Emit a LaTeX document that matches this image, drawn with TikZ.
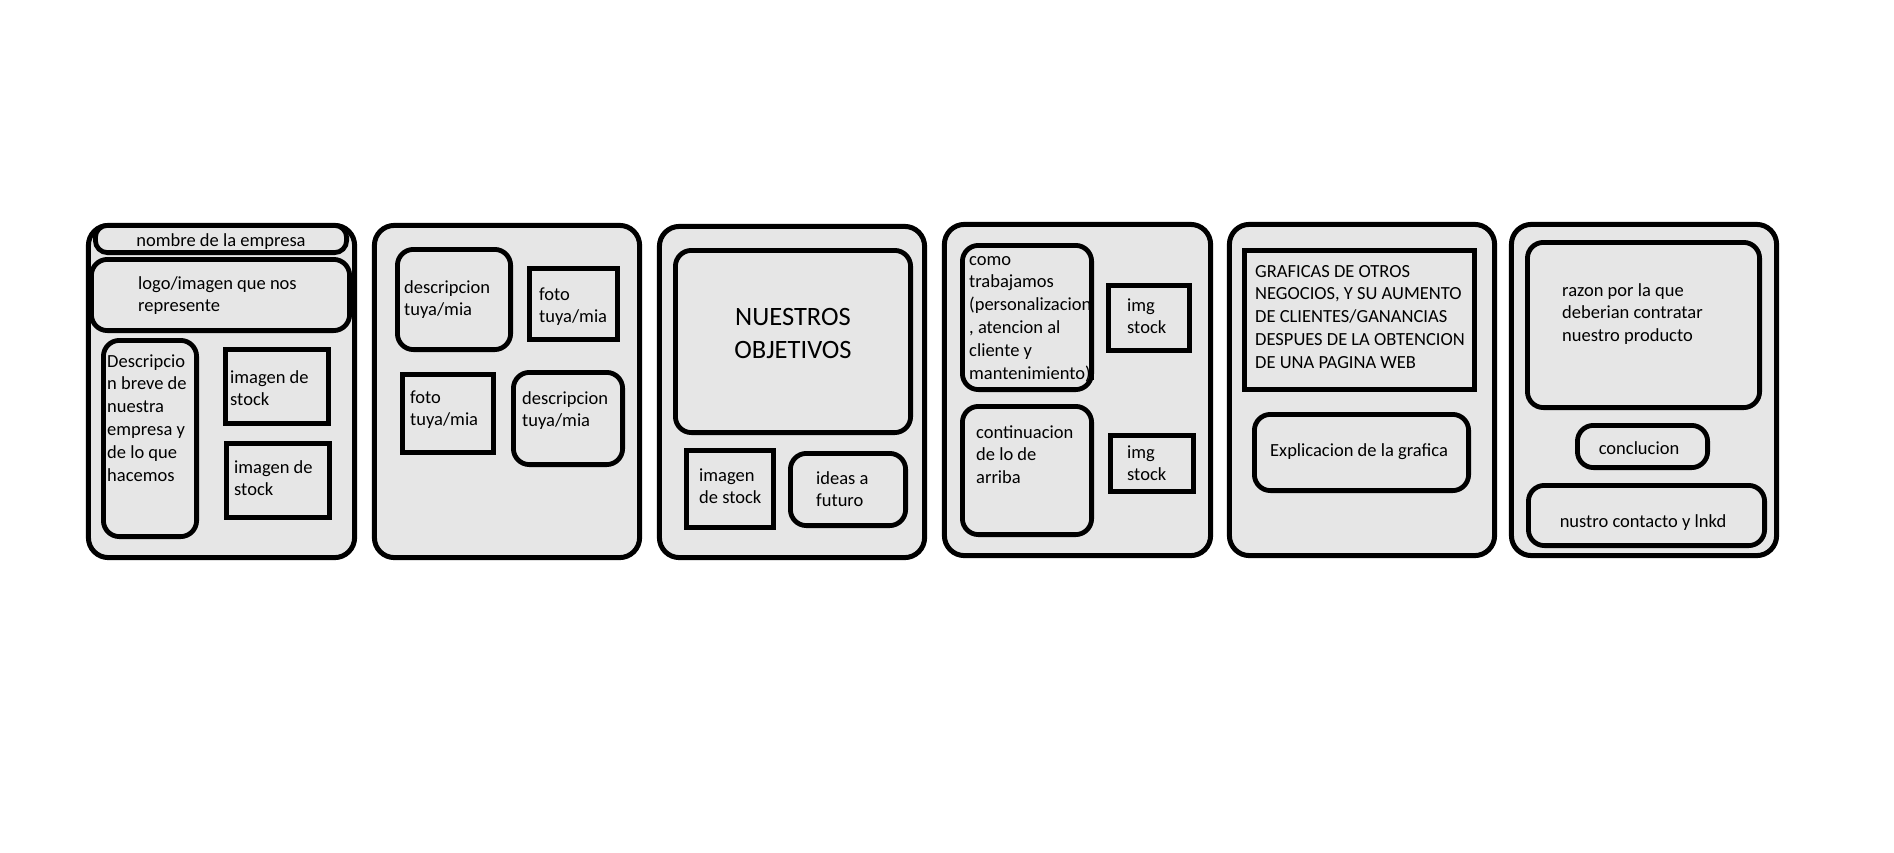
\documentclass[tikz,border=0pt]{standalone}
\usepackage{fontspec}
\setmainfont{Carlito}
\definecolor{panelgray}{RGB}{230,230,230}
\newcommand\wbox[6]{\node[#2, minimum width={(#5-#3)*1pt-4.8pt}, minimum height={(#6-#4)*1pt-4.8pt}] (#1) at ({(#3+#5)/2},{(#4+#6)/2}) {};}
\tikzset{
  panel/.style={draw=black, fill=panelgray, line width=5pt, rounded corners=20pt, inner sep=0pt, outer sep=0pt},
  rbox/.style={draw=black, fill=panelgray, line width=4.8pt, rounded corners=16pt, inner sep=0pt, outer sep=0pt},
  sbox/.style={draw=black, fill=panelgray, line width=4.8pt, inner sep=0pt, outer sep=0pt},
  pill/.style={draw=black, fill=panelgray, line width=4.8pt, rounded corners=12pt, inner sep=0pt, outer sep=0pt},
  txt/.style={font=\fontsize{18.5}{22.8}\selectfont, inner sep=0pt, align=left, text=black},
  big/.style={font=\fontsize{26.5}{33}\selectfont, inner sep=0pt, align=center, text=black},
}
\begin{document}
\begin{tikzpicture}[x=1pt, y=-1pt]
\path[use as bounding box, fill=white] (0,0) rectangle (1894,853);
% panels
\wbox{p1}{panel}{86}{223}{357}{560}
\wbox{p2}{panel}{372}{223}{642}{560}
\wbox{p3}{panel}{657}{224}{927}{560}
\wbox{p4}{panel}{942}{222}{1213}{558}
\wbox{p5}{panel}{1227}{222}{1497}{558}
\wbox{p6}{panel}{1509}{222}{1779}{558}
% panel 1
\wbox{logo}{rbox}{89}{257}{352}{333}
\wbox{nombre}{pill}{93}{223}{349}{255}
\wbox{desc}{rbox}{101}{338}{199}{539}
\wbox{stocka}{sbox}{223}{347}{331}{426}
\wbox{stockb}{sbox}{224}{441}{332}{520}
\node[txt, anchor=base] (tnombre) at (221,246) {nombre de la empresa};
\node[txt, anchor=base west] (tlogo) at (138,311.8) {logo/imagen que nos\\represente};
\node[txt, anchor=base west] (tdesc) at (107,481) {Descripcio\\n breve de\\nuestra\\empresa y\\de lo que\\hacemos};
\node[txt, anchor=base west] (tstocka) at (230,405.8) {imagen de\\stock};
\node[txt, anchor=base west] (tstockb) at (234,495.8) {imagen de\\stock};
% panel 2
\wbox{desca}{rbox}{395}{247}{513}{352}
\wbox{fotoa}{sbox}{527}{266}{620}{342}
\wbox{fotob}{sbox}{400}{372}{496}{455}
\wbox{descb}{rbox}{511}{370}{625}{467}
\node[txt, anchor=base west] (tdesca) at (404,315.8) {descripcion\\tuya/mia};
\node[txt, anchor=base west] (tfotoa) at (539,322.8) {foto\\tuya/mia};
\node[txt, anchor=base west] (tfotob) at (410,425.8) {foto\\tuya/mia};
\node[txt, anchor=base west] (tdescb) at (522,426.8) {descripcion\\tuya/mia};
% panel 3
\wbox{obj}{rbox}{673}{248}{913}{435}
\wbox{stockc}{sbox}{684}{448}{776}{530}
\wbox{ideas}{rbox}{788}{451}{908}{528}
\node[big, anchor=base] (tobj) at (793,358) {NUESTROS\\OBJETIVOS};
\node[txt, anchor=base west] (tstockc) at (699,503.8) {imagen\\de stock};
\node[txt, anchor=base west] (tideas) at (816,506.8) {ideas a\\futuro};
% panel 4
\wbox{como}{rbox}{960}{243}{1094}{392}
\wbox{imga}{sbox}{1106}{283}{1192}{353}
\wbox{cont}{rbox}{960}{404}{1094}{537}
\wbox{imgb}{sbox}{1108}{433}{1196}{494}
\begin{scope}
\clip (962,245) rectangle (1089.5,390);
\node[txt, anchor=base west] (tcomo) at (969,379) {como\\trabajamos\\(personalizacion\\, atencion al\\cliente y\\mantenimiento)};
\end{scope}
\draw[black, line width=4.8pt] (1091.6,260) -- (1091.6,380);
\node[txt, anchor=base west] (timga) at (1127,333.8) {img\\stock};
\node[txt, anchor=base west] (tcont) at (976,483.6) {continuacion\\de lo de\\arriba};
\node[txt, anchor=base west] (timgb) at (1127,480.8) {img\\stock};
% panel 5
\wbox{graf}{sbox}{1242}{248}{1477}{392}
\wbox{expl}{rbox}{1252}{412}{1471}{493}
\node[txt, anchor=base west] (tgraf) at (1255,368.2) {GRAFICAS DE OTROS\\NEGOCIOS, Y SU AUMENTO\\DE CLIENTES/GANANCIAS\\DESPUES DE LA OBTENCION\\DE UNA PAGINA WEB};
\node[txt, anchor=base west] (texpl) at (1270,456) {Explicacion de la grafica};
% panel 6
\wbox{razon}{rbox}{1525}{240}{1762}{410}
\wbox{concl}{rbox}{1575}{423}{1710}{470}
\wbox{contacto}{rbox}{1526}{483}{1767}{548}
\node[txt, anchor=base west] (trazon) at (1562,341.6) {razon por la que\\deberian contratar\\nuestro producto};
\node[txt, anchor=base] (tconcl) at (1639,454) {conclucion};
\node[txt, anchor=base] (tcontacto) at (1643,527) {nustro contacto y lnkd};
\end{tikzpicture}
\end{document}
